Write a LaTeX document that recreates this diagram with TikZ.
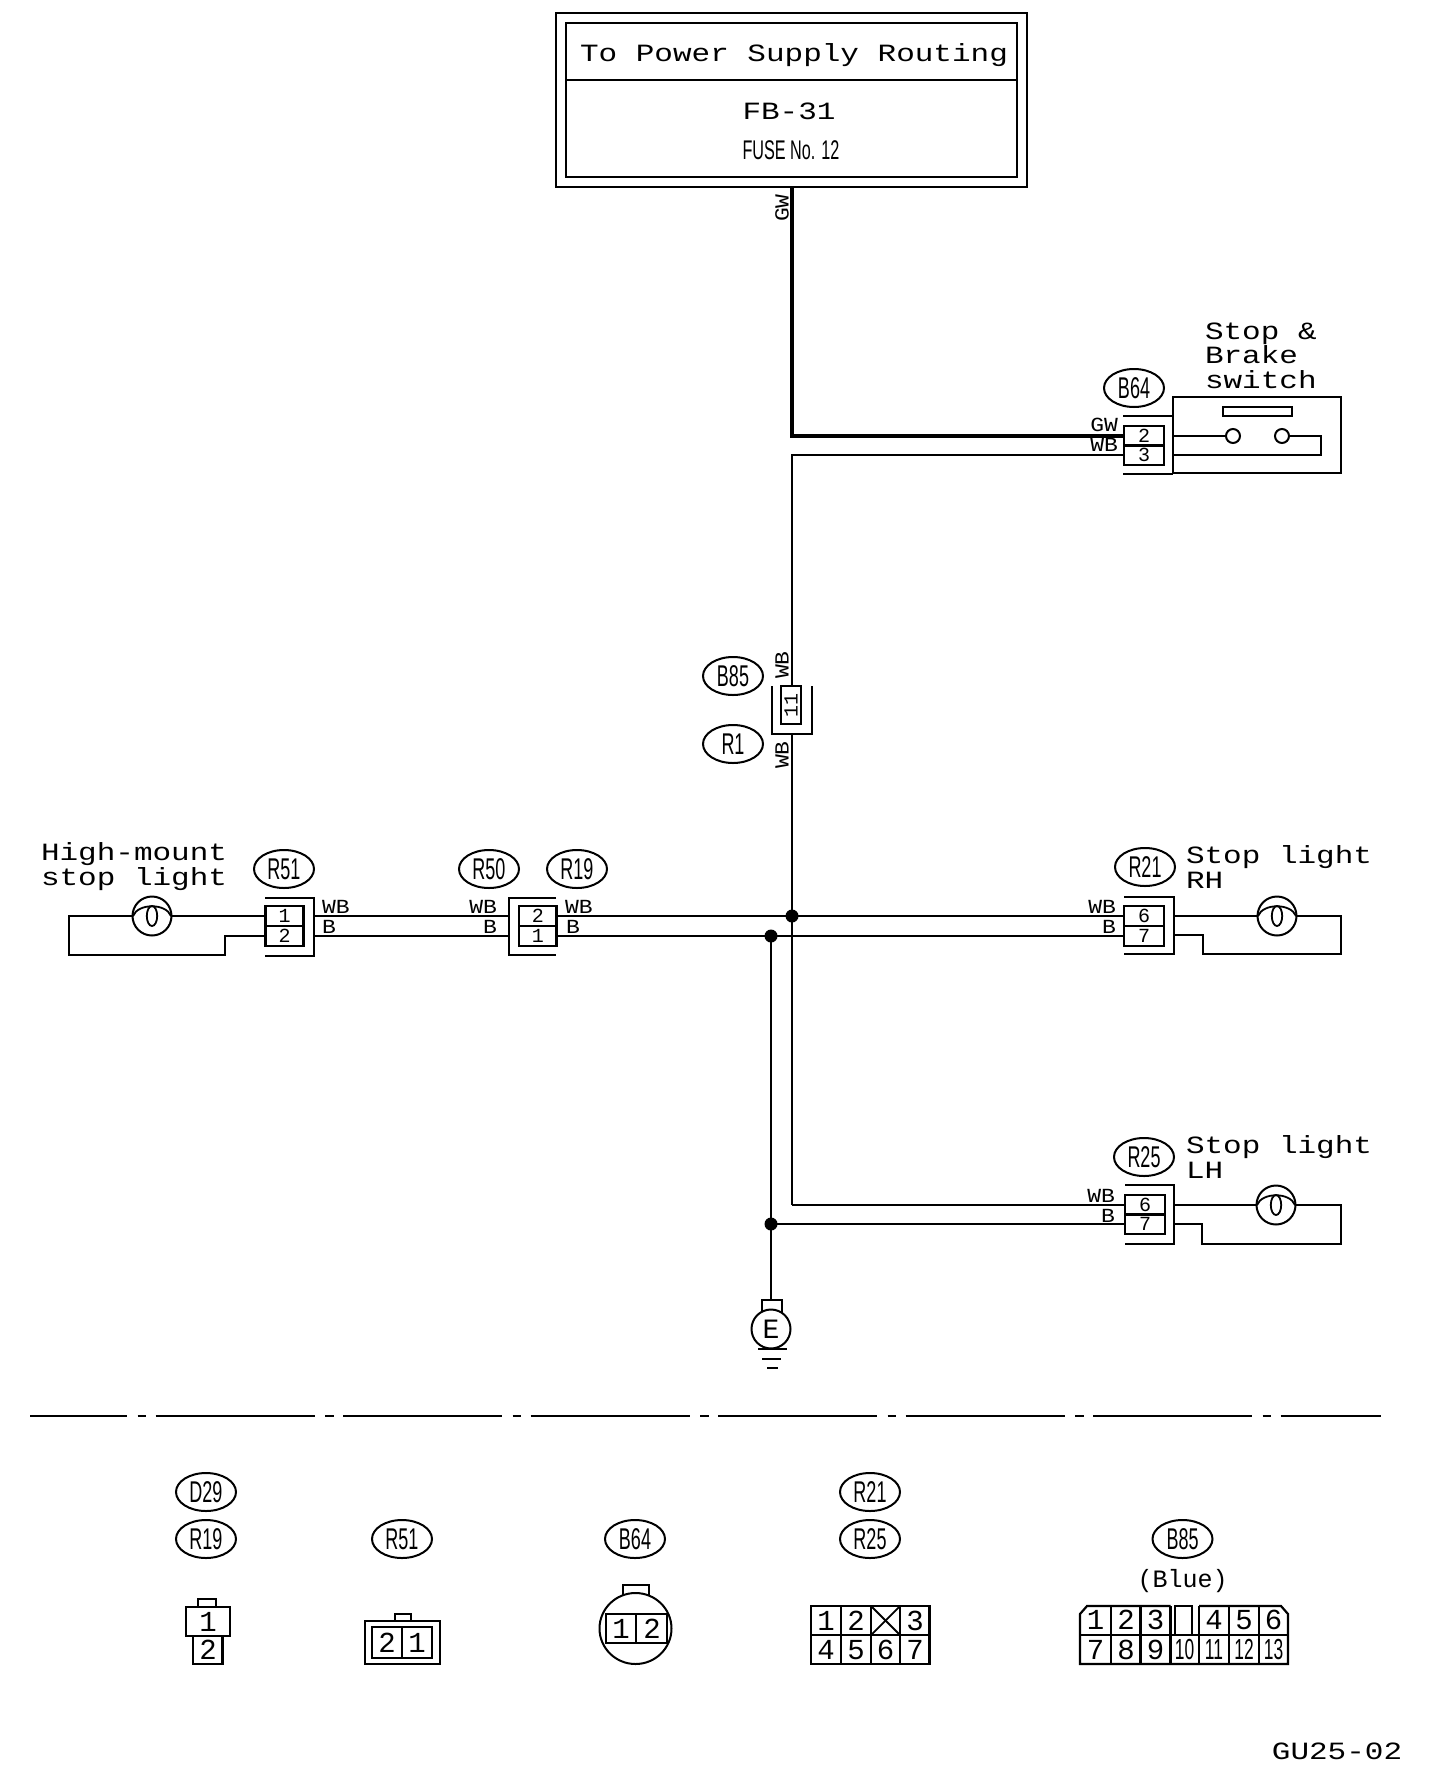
\documentclass[tikz,border=0pt]{standalone}
\usepackage{fontspec}
\usepackage{graphicx}
\usetikzlibrary{shapes.geometric}
\newfontfamily\plotfont{Liberation Mono}
\newfontfamily\widefont[FakeStretch=1.25]{Liberation Mono}
\newfontfamily\labelfont[FakeStretch=1.15]{Liberation Mono}
\newfontfamily\nrwfont[FakeStretch=0.6]{Liberation Sans}
\tikzset{
  x=0.5pt,y=-0.5pt,
  inkline/.style={line width=1.1pt,line cap=butt,line join=miter},
  wire/.style={line width=1.1pt,line join=miter},
  heavywire/.style={line width=2.1pt,line join=miter},
  bigtext/.style={font=\widefont\fontsize{12.4}{12.4}\selectfont,inner sep=0pt,outer sep=0pt,text height=8.2pt,text depth=0pt},
  midtext/.style={font=\plotfont\fontsize{12.5}{12.5}\selectfont,inner sep=0pt,outer sep=0pt,text height=8pt,text depth=0pt},
  wirelabel/.style={font=\labelfont\fontsize{10}{10}\selectfont,inner sep=0pt,outer sep=0pt,text height=6.6pt,text depth=0pt},
  tag/.style={ellipse,draw,line width=1pt,minimum width=30pt,minimum height=19pt,inner sep=0pt,outer sep=0pt,font=\nrwfont\fontsize{15}{15}\selectfont},
  narrowtext/.style={font=\nrwfont\fontsize{13.5}{13.5}\selectfont,inner sep=0pt,outer sep=0pt},
  cell/.style={rectangle,draw,line width=1.1pt,minimum width=20pt,minimum height=9.8pt,inner sep=0pt,outer sep=0pt,font=\plotfont\fontsize{10}{10}\selectfont},
  digit/.style={font=\plotfont\fontsize{14.5}{14.5}\selectfont,inner sep=0pt,outer sep=0pt,text height=9.5pt,text depth=0pt},
  narrowdigit/.style={font=\nrwfont\fontsize{14.5}{14.5}\selectfont,inner sep=0pt,outer sep=0pt,text height=10pt,text depth=0pt},
  lamp/.style={circle,draw,line width=1pt,minimum size=19.5pt,inner sep=0pt,outer sep=0pt},
  lampfil/.pic={
    \draw[line width=.9pt] (-19,0) .. controls (-14,-13) and (14,-13) .. (19,0);
    \draw[line width=.9pt] (0,0) ellipse [x radius=2.6pt,y radius=5pt];
  },
  joint/.style={circle,fill=black,draw=none,minimum size=6.5pt,inner sep=0pt,outer sep=0pt},
  swterm/.style={circle,draw,line width=1pt,minimum size=7pt,inner sep=0pt,outer sep=0pt},
}
\begin{document}
\begin{tikzpicture}
\useasboundingbox (0,0) rectangle (1456,1778);
\fill[white] (0,0) rectangle (1456,1778);

% ---- power supply box
\node[draw,inkline,rectangle,minimum width=235.5pt,minimum height=87pt,inner sep=0pt,outer sep=0pt] (fuseOuter) at (791.5,100) {};
\node[draw,inkline,rectangle,minimum width=225.5pt,minimum height=77pt,inner sep=0pt,outer sep=0pt] (fuseInner) at (791.5,100) {};
\draw[inkline] (fuseInner.west |- 0,80) -- (fuseInner.east |- 0,80);
\node[bigtext] (tTitle) at (794,53) {To Power Supply Routing};
\node[bigtext] (tFB) at (789,111) {FB-31};
\node[narrowtext] (tFuse) at (791,150) {FUSE No. 12};

% ---- switch
\node[bigtext,anchor=west] (tSw1) at (1205,331) {Stop \&};
\node[bigtext,anchor=west] (tSw2) at (1205,355) {Brake};
\node[bigtext,anchor=west] (tSw3) at (1205,380) {switch};
\node[tag] (tagB64) at (1134,388) {B64};
\node[cell] (b64p2) at (1144,436) {2};
\node[cell] (b64p3) at (1144,455) {3};
\draw[inkline] (1123,416) -- (1173,416);
\draw[inkline] (1123,474) -- (1173,474);
\node[draw,inkline,rectangle,minimum width=84pt,minimum height=38pt,inner sep=0pt,outer sep=0pt] (swBody) at (1257,435) {};
\node[draw,line width=1pt,rectangle,minimum width=34.5pt,minimum height=4.5pt,inner sep=0pt,outer sep=0pt] (swBar) at (1257.5,411.5) {};
\node[swterm] (swA) at (1233,436) {};
\node[swterm] (swB) at (1282,436) {};
\draw[wire] (swBody.west |- swA) -- (swA.west);
\draw[wire] (swB.east) -- (1321,436) -- (1321,455) -- (swBody.west |- b64p3);
\node[wirelabel,anchor=east] (lGW1) at (1118,425) {GW};
\node[wirelabel,anchor=east] (lWB1) at (1118,445) {WB};

% ---- main feed
\node[wirelabel,rotate=90] (lGW0) at (782,208) {GW};
\coordinate (gwCorner) at (792,436);
\coordinate (wbCorner) at (792,455);
\draw[heavywire] (fuseOuter.south -| gwCorner) -- (gwCorner) -- (b64p2.west);

% ---- B85 / R1 connector
\node[tag] (tagB85) at (733,676) {B85};
\node[tag] (tagR1) at (733,744) {R1};
\node[cell,minimum width=10pt,minimum height=19pt] (b85p) at (791,705) {\rotatebox{90}{11}};
\draw[inkline] (772,686) -- (772,734) -- (812,734) -- (812,686);
\node[wirelabel,rotate=90] (lWB2) at (782,665) {WB};
\node[wirelabel,rotate=90] (lWB3) at (782,755) {WB};
\coordinate (b85out) at (792,734);
\coordinate (j1c) at (792,916);
\coordinate (r25corner) at (792,1205);
\draw[wire] (b64p3.west) -- (wbCorner) -- (b85p.north -| wbCorner);
\draw[wire] (b85out) -- (r25corner);

% ---- high-mount stop light
\node[bigtext,anchor=west] (tHM1) at (41,852) {High-mount};
\node[bigtext,anchor=west] (tHM2) at (41,877) {stop light};
\node[tag] (tagR51) at (284,869) {R51};
\node[lamp] (lampHM) at (152,916) {};
\pic at (lampHM) {lampfil};
\node[cell,minimum width=19pt] (r51p1) at (284.5,916) {1};
\node[cell,minimum width=19pt] (r51p2) at (284.5,936) {2};
\draw[inkline] (265,898) -- (314,898) -- (314,956) -- (265,956);
\draw[wire] (lampHM.east) -- (r51p1.west);
\draw[wire] (lampHM.west) -- (69,916) -- (69,955) -- (225,955) -- (225,936) -- (r51p2.west);
\node[wirelabel,anchor=west] (lWB4) at (322,907) {WB};
\node[wirelabel,anchor=west] (lB4) at (322,927) {B};

% ---- R50 / R19 connector
\node[tag] (tagR50) at (489,869) {R50};
\node[tag] (tagR19) at (577,869) {R19};
\node[cell,minimum width=18.75pt] (r19p2) at (537.75,916) {2};
\node[cell,minimum width=18.75pt] (r19p1) at (537.75,936) {1};
\draw[inkline] (556,898) -- (509,898) -- (509,955) -- (556,955);
\node[wirelabel,anchor=east] (lWB5) at (497,907) {WB};
\node[wirelabel,anchor=east] (lB5) at (497,927) {B};
\node[wirelabel,anchor=west] (lWB6) at (565,907) {WB};
\node[wirelabel,anchor=west] (lB6) at (566,927) {B};
\coordinate (r51o1) at (314,916);
\coordinate (r51o2) at (314,936);
\coordinate (r50i1) at (509,916);
\coordinate (r50i2) at (509,936);
\draw[wire] (r51o1) -- (r50i1);
\draw[wire] (r51o2) -- (r50i2);

% ---- stop light RH
\node[bigtext,anchor=west] (tRH1) at (1186,855) {Stop light};
\node[bigtext,anchor=west] (tRH2) at (1186,880) {RH};
\node[tag] (tagR21) at (1145,867) {R21};
\node[cell] (r21p6) at (1144,916) {6};
\node[cell] (r21p7) at (1144,936) {7};
\draw[inkline] (1124,897) -- (1174,897) -- (1174,954) -- (1124,954);
\node[wirelabel,anchor=east] (lWB7) at (1116,907) {WB};
\node[wirelabel,anchor=east] (lB7) at (1116,927) {B};
\node[lamp] (lampRH) at (1277,916) {};
\pic at (lampRH) {lampfil};
\coordinate (r21o1) at (1174,916);
\coordinate (r21o2) at (1174,935);
\draw[wire] (r21o1) -- (lampRH.west);
\draw[wire] (lampRH.east) -- (1341,916) -- (1341,954) -- (1203,954) -- (1203,935) -- (r21o2);
\draw[wire] (r19p2.east) -- (r21p6.west);
\draw[wire] (r19p1.east) -- (r21p7.west);

% ---- stop light LH
\node[bigtext,anchor=west] (tLH1) at (1186,1145) {Stop light};
\node[bigtext,anchor=west] (tLH2) at (1186,1170) {LH};
\node[tag] (tagR25) at (1144,1157) {R25};
\node[cell] (r25p6) at (1145,1205) {6};
\node[cell] (r25p7) at (1145,1224) {7};
\draw[inkline] (1125,1185) -- (1174,1185) -- (1174,1244) -- (1125,1244);
\node[wirelabel,anchor=east] (lWB8) at (1115,1196) {WB};
\node[wirelabel,anchor=east] (lB8) at (1115,1216) {B};
\node[lamp] (lampLH) at (1276,1205) {};
\pic at (lampLH) {lampfil};
\coordinate (r25o1) at (1174,1205);
\coordinate (r25o2) at (1174,1224);
\draw[wire] (r25o1) -- (lampLH.west);
\draw[wire] (lampLH.east) -- (1341,1205) -- (1341,1244) -- (1202,1244) -- (1202,1224) -- (r25o2);
\draw[wire] (r25corner) -- (r25p6.west);

% ---- ground
\coordinate (j2c) at (771,936);
\coordinate (j3c) at (771,1224);
\node[draw,line width=1pt,rectangle,minimum width=10pt,minimum height=6pt,inner sep=0pt,outer sep=0pt] (gndTab) at (772,1306) {};
\node[circle,draw,fill=white,line width=1pt,minimum size=19.5pt,inner sep=0pt,outer sep=0pt,font=\plotfont\fontsize{14}{14}\selectfont] (gndE) at (771,1329) {E};
\draw[wire] (j2c) -- (gndTab.north -| j2c);
\draw[wire] (j3c) -- (r25p7.west);
\node[joint] (j1) at (j1c) {};
\node[joint] (j2) at (j2c) {};
\node[joint] (j3) at (j3c) {};
\draw[line width=1.1pt] (758,1349) -- (787,1349);
\draw[line width=1.1pt] (762,1359) -- (781,1359);
\draw[line width=1.1pt] (767,1368) -- (778,1368);

% ---- separator
\draw[line width=1pt,dash pattern=on 79.5pt off 5.25pt on 4.25pt off 4.75pt,dash phase=31pt] (30,1415.5) -- (1381,1415.5);

% ---- key tags
\node[tag] (kD29) at (206,1492) {D29};
\node[tag] (kR19) at (206,1539) {R19};
\node[tag] (kR51) at (402,1539) {R51};
\node[tag] (kB64) at (635,1539) {B64};
\node[tag] (kR21) at (870,1492) {R21};
\node[tag] (kR25) at (870,1539) {R25};
\node[tag] (kB85) at (1182.5,1539) {B85};
\node[midtext] (tBlue) at (1182.5,1579) {(Blue)};

% ---- key connector R19
\draw[line width=1pt] (198,1607) -- (198,1599) -- (216,1599) -- (216,1607);
\draw[inkline] (186,1607) rectangle (230,1636);
\draw[inkline] (193,1636) -- (193,1664) -- (222.5,1664) -- (222.5,1636);
\node[digit] (k1a) at (208,1622) {1};
\node[digit] (k1b) at (208,1650) {2};

% ---- key connector R51
\draw[line width=1pt] (395,1621) -- (395,1614) -- (411,1614) -- (411,1621);
\draw[line width=1.2pt] (365,1621) rectangle (440,1664);
\draw[line width=1.2pt] (372,1627) rectangle (432,1658);
\draw[line width=.8pt] (402,1627) -- (402,1658);
\node[digit] (k2a) at (387,1643) {2};
\node[digit] (k2b) at (417,1643) {1};

% ---- key connector B64
\draw[line width=1pt] (622.5,1595) -- (622.5,1585) -- (649,1585) -- (649,1595);
\draw[line width=1pt] (635.5,1628.5) ellipse [x radius=18pt,y radius=17.75pt];
\draw[inkline] (606,1614) rectangle (667,1643);
\draw[inkline] (636,1614) -- (636,1643);
\node[digit] (k3a) at (621,1628.5) {1};
\node[digit] (k3b) at (652,1628.5) {2};

% ---- key connector R21/R25
\draw[inkline] (811,1606) rectangle (929.5,1664);
\draw[inkline] (811,1635) -- (929.5,1635);
\draw[inkline] (841,1606) -- (841,1664);
\draw[inkline] (871,1606) -- (871,1664);
\draw[inkline] (900,1606) -- (900,1664);
\draw[line width=.9pt] (871,1606) -- (900,1635);
\draw[line width=.9pt] (900,1606) -- (871,1635);
\node[digit] (k4a) at (826,1621) {1};
\node[digit] (k4b) at (856,1621) {2};
\node[digit] (k4c) at (915,1621) {3};
\node[digit] (k4d) at (826,1650) {4};
\node[digit] (k4e) at (856,1650) {5};
\node[digit] (k4f) at (885.5,1650) {6};
\node[digit] (k4g) at (915,1650) {7};

% ---- key connector B85
\draw[inkline] (1170.5,1606) -- (1087,1606) -- (1080,1614) -- (1080,1664) -- (1288,1664) -- (1288,1614) -- (1281,1606) -- (1199,1606);
\draw[inkline] (1080,1635) -- (1288,1635);
\draw[inkline] (1111,1606) -- (1111,1664);
\draw[inkline] (1140.5,1606) -- (1140.5,1664);
\draw[inkline] (1170.5,1606) -- (1170.5,1664);
\draw[inkline] (1199,1606) -- (1199,1664);
\draw[inkline] (1229,1606) -- (1229,1664);
\draw[inkline] (1259,1606) -- (1259,1664);
\draw[inkline] (1175,1635) -- (1175,1606) -- (1192,1606) -- (1192,1635);
\node[digit] (k5a) at (1095.5,1620) {1};
\node[digit] (k5b) at (1126,1620) {2};
\node[digit] (k5c) at (1155.5,1620) {3};
\node[digit] (k5d) at (1214,1620) {4};
\node[digit] (k5e) at (1244,1620) {5};
\node[digit] (k5f) at (1273.5,1620) {6};
\node[digit] (k5g) at (1095.5,1649.5) {7};
\node[digit] (k5h) at (1126,1649.5) {8};
\node[digit] (k5i) at (1155.5,1649.5) {9};
\node[narrowdigit] (k5j) at (1184.5,1649.5) {10};
\node[narrowdigit] (k5k) at (1214,1649.5) {11};
\node[narrowdigit] (k5l) at (1244,1649.5) {12};
\node[narrowdigit] (k5m) at (1273.5,1649.5) {13};

\node[bigtext] (tCode) at (1337,1751) {GU25-02};
\end{tikzpicture}
\end{document}
